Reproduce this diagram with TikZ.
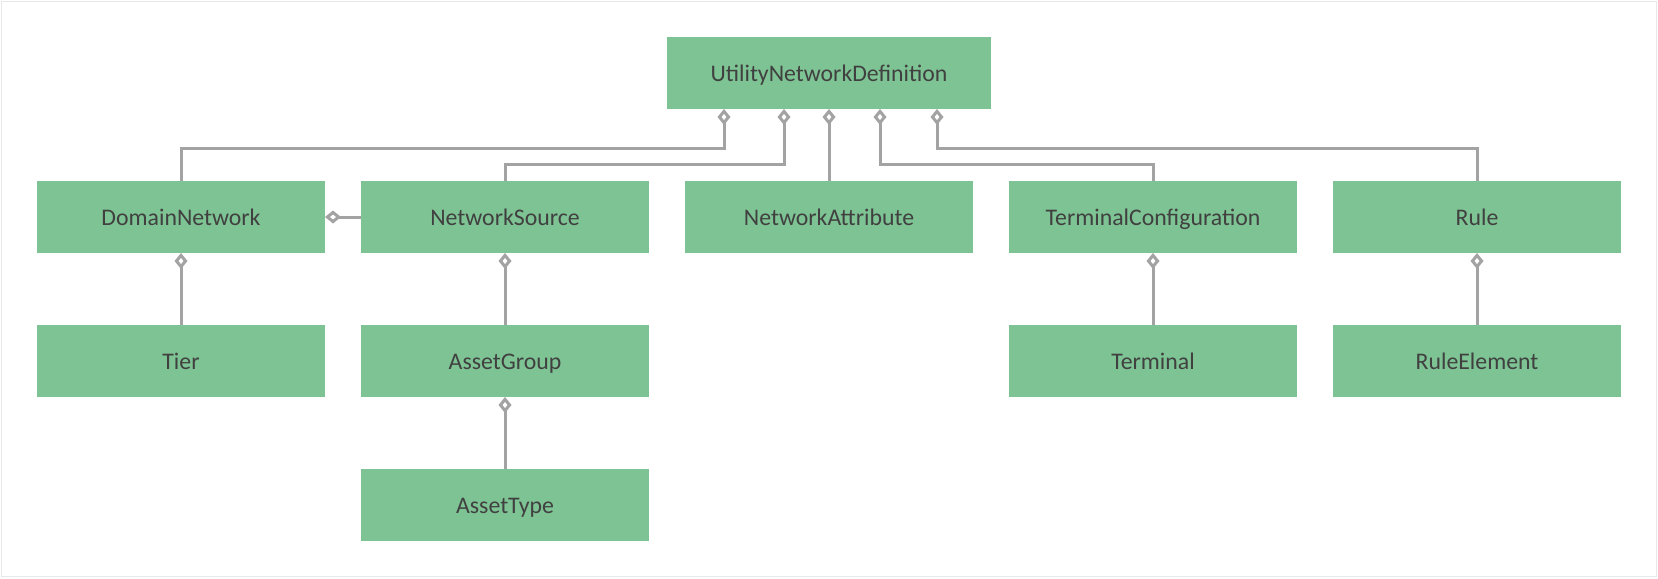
\documentclass[tikz,border=0pt]{standalone}
\usepackage{fontspec}
\setmainfont{Carlito}
\usepackage{xcolor}
\usetikzlibrary{arrows.meta,positioning}
\definecolor{boxgreen}{HTML}{7EC393}
\definecolor{linegray}{HTML}{A3A3A3}
\definecolor{textgray}{HTML}{404040}

\begin{document}
\begin{tikzpicture}[x=0.5pt,y=-0.5pt,
		cls/.style={fill=boxgreen, text=textgray, minimum width=144pt, minimum height=36pt,
			inner sep=0pt, outer sep=0pt, text height=8.6pt, text depth=0pt,
			font=\fontsize{11.9}{14}\selectfont},
		agg/.style={draw=linegray, line width=1.5pt,
			-{Diamond[fill=white, length=8pt, width=6.5pt]}}]
			\useasboundingbox (0,0) rectangle (1658,578);
			\draw[color=gray!18, line width=0.6pt] (1.5,1.5) rectangle (1656.5,576.5);
			% top
			\node[cls, minimum width=162pt] (und) at (829,73) {UtilityNetworkDefinition};
			% second row
			\node[cls] (dn) at (181,217) {DomainNetwork};
			\node[cls] (ns) at (505,217) {NetworkSource};
			\node[cls] (na) at (829,217) {NetworkAttribute};
			\node[cls] (tc) at (1153,217) {TerminalConfiguration};
			\node[cls] (ru) at (1477,217) {Rule};
			% third row
			\node[cls, below=36pt of dn] (ti) {Tier};
			\node[cls, below=36pt of ns] (ag) {AssetGroup};
			\node[cls, below=36pt of tc] (te) {Terminal};
			\node[cls, below=36pt of ru] (re) {RuleElement};
			% fourth row
			\node[cls, below=36pt of ag] (at) {AssetType};
			% ends on the top box
			\coordinate (u1) at (724,109);
			\coordinate (u2) at (784,109);
			\coordinate (u3) at (880,109);
			\coordinate (u4) at (937,109);
			\draw[agg] (dn.north) -- ++(0,-33) -| (u1);
			\draw[agg] (ns.north) -- ++(0,-17) -| (u2);
			\draw[agg] (na.north) -- (und.south);
			\draw[agg] (tc.north) -- ++(0,-17) -| (u3);
			\draw[agg] (ru.north) -- ++(0,-33) -| (u4);
			% lower links
			\draw[agg] (ns.west) -- (dn.east);
			\draw[agg] (ti.north) -- (dn.south);
			\draw[agg] (ag.north) -- (ns.south);
			\draw[agg] (at.north) -- (ag.south);
			\draw[agg] (te.north) -- (tc.south);
			\draw[agg] (re.north) -- (ru.south);
		\end{tikzpicture}
\end{document}
